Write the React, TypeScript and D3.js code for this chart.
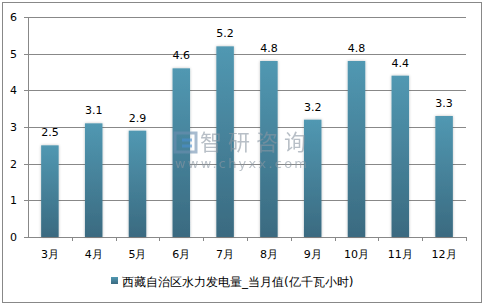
import React from "react";
import * as d3 from "d3";

const categories = ["3月", "4月", "5月", "6月", "7月", "8月", "9月", "10月", "11月", "12月"];
const values = [2.5, 3.1, 2.9, 4.6, 5.2, 4.8, 3.2, 4.8, 4.4, 3.3];
const yTicks = [0, 1, 2, 3, 4, 5, 6];
const seriesName = "西藏自治区水力发电量_当月值(亿千瓦小时)";

export default function App() {
  const W = 485, H = 307;
  const left = 28, right = 466, top = 17, bottom = 237;
  const x = d3.scaleBand<string>().domain(categories).range([left, right]).paddingInner(0.6).paddingOuter(0.3);
  const xb = d3.scaleBand<string>().domain(categories).range([left, right]);
  const y = d3.scaleLinear().domain([0, 6]).range([bottom, top]);
  const font = "Tahoma, 'DejaVu Sans', Verdana, sans-serif";
  return (
    <svg width={W} height={H} style={{ position: "absolute", left: 0, top: 0 }}>
      <defs>
        <linearGradient id="g" x1="0" y1="0" x2="0" y2="1">
          <stop offset="0" stopColor="#5198b2" />
          <stop offset="1" stopColor="#3a6a80" />
        </linearGradient>
        <filter id="sh" x="-30%" y="-5%" width="160%" height="110%">
          <feGaussianBlur in="SourceAlpha" stdDeviation="1.5" />
          <feComponentTransfer><feFuncA type="linear" slope="0.25" /></feComponentTransfer>
          <feMerge><feMergeNode /><feMergeNode in="SourceGraphic" /></feMerge>
        </filter>
      </defs>
      <rect x={0} y={0} width={W} height={H} fill="#fff" />
      <rect x={2.5} y={2.5} width={479} height={300} fill="none" stroke="#888" strokeWidth={1} />
      {yTicks.map((t) => (
        <g key={t}>
          <line x1={left - 4} x2={right} y1={Math.round(y(t)) + 0.5} y2={Math.round(y(t)) + 0.5} stroke="#888" />
          <text x={17} y={y(t) + 4} textAnchor="end" fontSize={11} fontFamily={font} fill="#000">{t}</text>
        </g>
      ))}
      <line x1={left + 0.5} x2={left + 0.5} y1={top} y2={bottom} stroke="#888" />
      {categories.map((c) => (
        <line key={"t" + c} x1={Math.round(xb(c)! + xb.bandwidth()) + 0.5} x2={Math.round(xb(c)! + xb.bandwidth()) + 0.5} y1={bottom} y2={bottom + 4} stroke="#888" />
      ))}
      {categories.map((c, i) => (
        <g key={c}>
          <rect x={x(c)} y={y(values[i])} width={x.bandwidth()} height={bottom - y(values[i])} fill="url(#g)" filter="url(#sh)" />
          <text x={x(c)! + x.bandwidth() / 2} y={y(values[i]) - 9} textAnchor="middle" fontSize={11} fontFamily={font} fill="#000">{values[i]}</text>
          <text x={xb(c)! + xb.bandwidth() / 2} y={258} textAnchor="middle" fontSize={11} fontFamily={font} fill="#000">{c}</text>
        </g>
      ))}
      <g opacity={0.6}>
        <rect x={175} y={133} width={21} height={19} fill="none" stroke="#6d8fb0" strokeWidth={3} />
        <line x1={182} y1={140} x2={192} y2={140} stroke="#4a8fd0" strokeWidth={3} />
        <line x1={182} y1={146} x2={192} y2={146} stroke="#4a8fd0" strokeWidth={3} />
        <text x={200} y={150} fontSize={22} textLength={106} fontFamily="'Noto Sans CJK SC', sans-serif" fill="#8a96a2">智研咨询</text>
        <text x={175} y={168} fontSize={13} textLength={132} fontFamily="'DejaVu Sans', sans-serif" fill="#8a96a2">www.chyxx.com</text>
      </g>
      <rect x={111} y={277} width={7} height={7} fill="url(#g)" />
      <text x={122} y={286} fontSize={12} fontFamily={font} fill="#000">{seriesName}</text>
    </svg>
  );
}
